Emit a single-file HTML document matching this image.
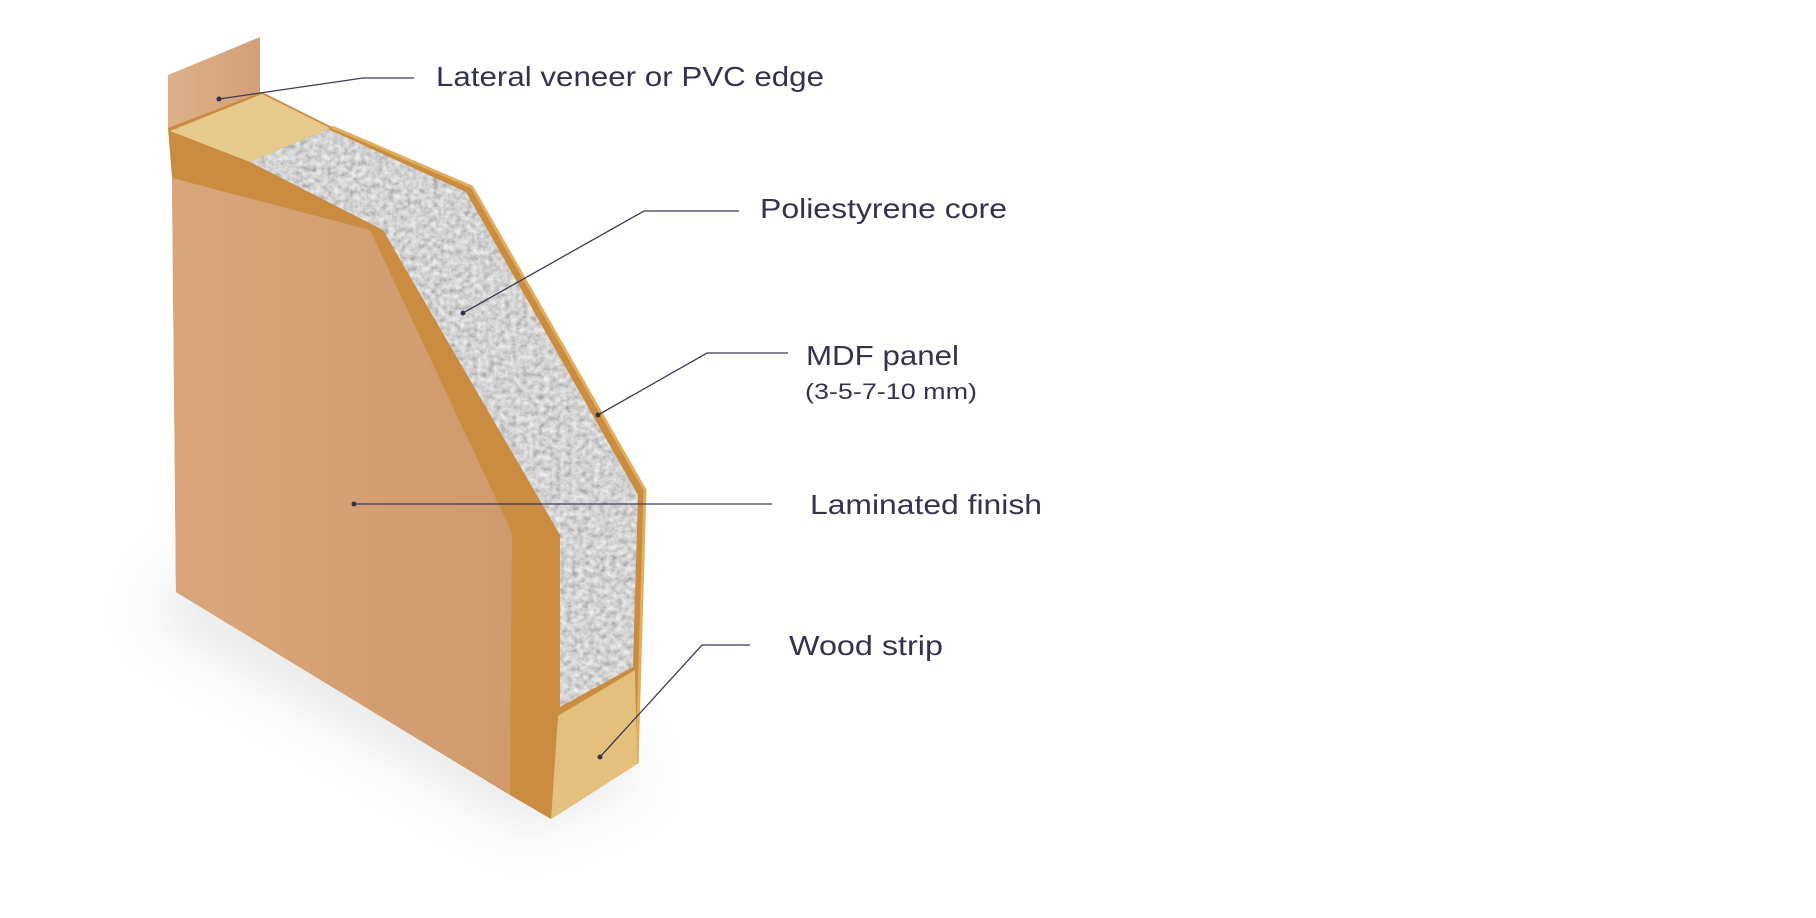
<!DOCTYPE html>
<html><head><meta charset="utf-8"><style>
html,body{margin:0;padding:0;background:#fff;}
svg{display:block;}
text{font-family:"Liberation Sans",sans-serif;fill:#33334f;}
</style></head><body>
<svg width="1816" height="918" viewBox="0 0 1816 918" xmlns="http://www.w3.org/2000/svg">
<defs>
<filter id="blur" x="-50%" y="-50%" width="200%" height="200%"><feGaussianBlur stdDeviation="28"/></filter>
<filter id="foam" x="0" y="0" width="100%" height="100%">
<feTurbulence type="fractalNoise" baseFrequency="0.18" numOctaves="2" seed="3" result="n"/>
<feComponentTransfer in="n" result="c"><feFuncR type="discrete" tableValues="0.25 0.42 0.58 0.72 0.85 0.95"/><feFuncG type="discrete" tableValues="0.25 0.42 0.58 0.72 0.85 0.95"/><feFuncB type="discrete" tableValues="0.27 0.44 0.6 0.74 0.87 0.97"/><feFuncA type="linear" slope="0" intercept="1"/></feComponentTransfer>
<feColorMatrix in="c" type="saturate" values="0"/>
</filter>
<clipPath id="foamclip"><polygon points="250,162 328,129 466,192 638,495 633,667 560,707 560,535 383,230"/></clipPath>
<linearGradient id="face" x1="0" y1="0" x2="1" y2="0"><stop offset="0" stop-color="#d9a57a"/><stop offset="1" stop-color="#cf9a6c"/></linearGradient>
<linearGradient id="ven" x1="0" y1="0" x2="1" y2="0"><stop offset="0" stop-color="#deb08a"/><stop offset="1" stop-color="#d39f77"/></linearGradient>
</defs>
<polygon points="150,620 520,830 640,790 600,700 180,560" fill="#d0d0d0" opacity="0.45" filter="url(#blur)"/>
<polygon points="168,75 260,37 260,94 168,130" fill="url(#ven)"/>
<polygon points="168,128 262,92 332,127 472,187 645,490 637,764 551,819 510,795 176,592 172,178" fill="#c98c40"/>
<polygon points="170,131 262,94 330,128 250,162" fill="#e6c98c"/>
<g clip-path="url(#foamclip)"><rect x="240" y="120" width="410" height="600" filter="url(#foam)"/></g>
<polyline points="332,127 472,187 645,490 637,764" fill="none" stroke="#e1ae5c" stroke-width="3"/>
<polygon points="558,716 635,670 637,764 551,819" fill="#e4c07c"/>
<polygon points="172,178 370,230 512,533 510,795 176,592" fill="url(#face)"/>
<g stroke="#3b3b5a" stroke-width="1.3" fill="none">
<polyline points="219,99 363,78 414,78"/>
<polyline points="463,313 644,211 739,211"/>
<polyline points="598,415 707,353 788,353"/>
<polyline points="354,504 772,504"/>
<polyline points="600,757 702,645 750,645"/>
</g>
<g fill="#33334f">
<circle cx="219" cy="99" r="2.5"/><circle cx="463" cy="313" r="2.5"/><circle cx="598" cy="415" r="2.5"/><circle cx="354" cy="504" r="2.5"/><circle cx="600" cy="757" r="2.5"/>
</g>
<text x="436" y="86" font-size="28" textLength="388" lengthAdjust="spacingAndGlyphs">Lateral veneer or PVC edge</text>
<text x="760" y="218" font-size="28" textLength="247" lengthAdjust="spacingAndGlyphs">Poliestyrene core</text>
<text x="806" y="365" font-size="28" textLength="153" lengthAdjust="spacingAndGlyphs">MDF panel</text>
<text x="805" y="399" font-size="22" textLength="172" lengthAdjust="spacingAndGlyphs">(3-5-7-10 mm)</text>
<text x="810" y="514" font-size="28" textLength="232" lengthAdjust="spacingAndGlyphs">Laminated finish</text>
<text x="789" y="655" font-size="28" textLength="154" lengthAdjust="spacingAndGlyphs">Wood strip</text>
</svg>
</body></html>
